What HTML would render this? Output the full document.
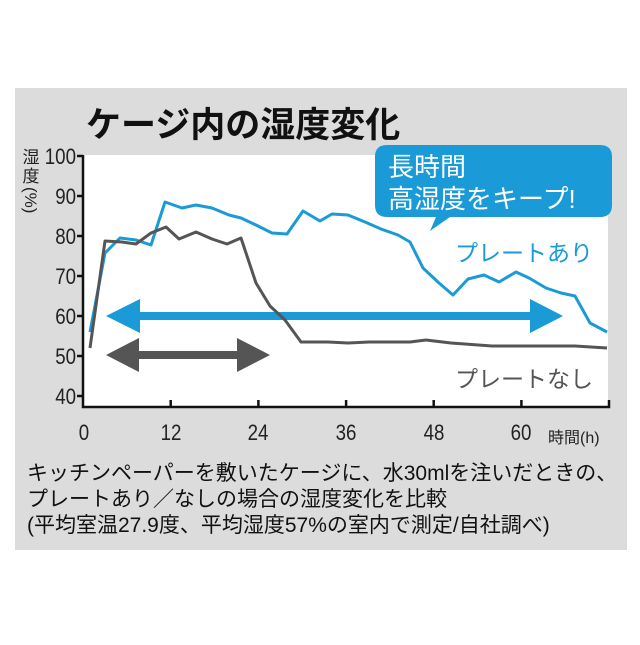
<!DOCTYPE html>
<html><head><meta charset="utf-8"><style>
body{margin:0;background:#fff;}
svg text{font-family:"Liberation Sans","Noto Sans CJK JP",sans-serif;}
</style></head><body>
<svg width="640" height="640" viewBox="0 0 640 640" xmlns="http://www.w3.org/2000/svg">
<rect x="15" y="88" width="612" height="462" fill="#dcdcdc"/>
<rect x="84" y="155" width="524" height="252" fill="#fff"/>
<text x="86" y="137" font-size="35" font-weight="bold" fill="#111">ケージ内の湿度変化</text>
<!-- y label -->
<text x="31" y="163" font-size="17" fill="#222" text-anchor="middle">湿</text>
<text x="31" y="182" font-size="17" fill="#222" text-anchor="middle">度</text>
<text x="0" y="0" font-size="17" fill="#222" transform="translate(25 187) rotate(90)">(%)</text>
<!-- axes -->
<g stroke="#111" stroke-width="2.5" fill="none">
<path d="M83 155 V407 H609 V400"/>
<path d="M77 156H83M77 196H83M77 236H83M77 276H83M77 316H83M77 356H83M77 396H83"/>
<path d="M170.7 407V400M258.4 407V400M346.1 407V400M433.7 407V400M521.4 407V400"/>
</g>
<g font-size="22" fill="#222" text-anchor="end">
<text x="76" y="164" transform="scale(0.85 1)" transform-origin="76 0">100</text>
<text x="76" y="204" transform="scale(0.85 1)" transform-origin="76 0">90</text>
<text x="76" y="244" transform="scale(0.85 1)" transform-origin="76 0">80</text>
<text x="76" y="284" transform="scale(0.85 1)" transform-origin="76 0">70</text>
<text x="76" y="324" transform="scale(0.85 1)" transform-origin="76 0">60</text>
<text x="76" y="364" transform="scale(0.85 1)" transform-origin="76 0">50</text>
<text x="76" y="404" transform="scale(0.85 1)" transform-origin="76 0">40</text>
</g>
<g font-size="22" fill="#222" text-anchor="middle">
<text x="84" y="440" transform="scale(0.85 1)" transform-origin="84 0">0</text>
<text x="171" y="440" transform="scale(0.85 1)" transform-origin="171 0">12</text>
<text x="258" y="440" transform="scale(0.85 1)" transform-origin="258 0">24</text>
<text x="346" y="440" transform="scale(0.85 1)" transform-origin="346 0">36</text>
<text x="434" y="440" transform="scale(0.85 1)" transform-origin="434 0">48</text>
<text x="521" y="440" transform="scale(0.85 1)" transform-origin="521 0">60</text>
</g>
<text x="548" y="443" font-size="16" fill="#222">時間(h)</text>
<!-- arrows -->
<g fill="#1a9ad6">
<rect x="125" y="312" width="420" height="8"/>
<polygon points="106,316 140,299 140,333"/>
<polygon points="563,316 530,299 530,333"/>
</g>
<g fill="#555">
<rect x="125" y="351" width="128" height="8"/>
<polygon points="106,355 139,338 139,372"/>
<polygon points="270,355 237,338 237,372"/>
</g>
<!-- series -->
<polyline fill="none" stroke="#1a9ad6" stroke-width="3" stroke-linejoin="round" points="90,332 105,253 120,238 136,240 151,245 165,202 182,208 196,205 212,208 229,215 241,218 256,225 272,233 287,234 303,211 320,221 332,214 348,215 365,222 381,229 398,235 410,242 423,268 439,283 453,295 468,279 484,275 499,282 516,272 529,278 546,288 561,293 575,296 590,323 607,332"/>
<polyline fill="none" stroke="#555" stroke-width="3" stroke-linejoin="round" points="90,348 105,241 122,242 136,244 151,233 166,227 179,239 196,232 212,239 227,244 241,238 256,283 270,306 285,320 301,342 328,342 348,343 369,342 410,342 426,340 451,343 492,346 534,346 575,346 607,348"/>
<text x="455" y="261" font-size="23" fill="#1a9ad6">プレートあり</text>
<text x="455" y="387" font-size="23" fill="#555">プレートなし</text>
<!-- bubble -->
<path d="M387 145 H600 Q612 145 612 157 V205 Q612 217 600 217 H450 L430 231 L436 217 H387 Q375 217 375 205 V157 Q375 145 387 145 Z" fill="#1a9ad6"/>
<text x="388" y="176" font-size="26" fill="#fff">長時間</text>
<text x="388" y="208" font-size="26" fill="#fff">高湿度をキープ!</text>
<!-- caption -->
<g font-size="21" fill="#111">
<text x="27" y="480">キッチンペーパーを敷いたケージに、水30mlを注いだときの、</text>
<text x="27" y="506">プレートあり／なしの場合の湿度変化を比較</text>
<text x="27" y="532">(平均室温27.9度、平均湿度57%の室内で測定/自社調べ)</text>
</g>
</svg>
</body></html>
